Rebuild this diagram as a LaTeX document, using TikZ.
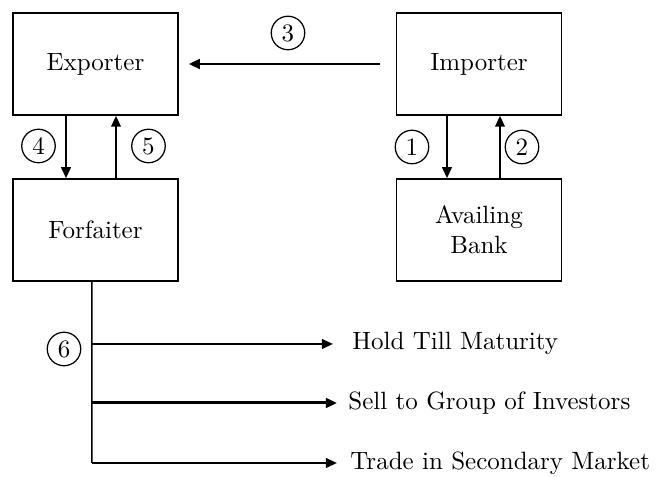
\documentclass[tikz,border=0pt]{standalone}
\usepackage{tikz}
\usetikzlibrary{arrows.meta,calc}

\begin{document}
\begin{tikzpicture}[x=0.4pt, y=-0.4pt,
    party/.style={draw, line width=0.6pt, minimum width=66pt, minimum height=40.8pt, align=center},
    num/.style={draw, circle, line width=0.5pt, minimum size=13.4pt, inner sep=0pt},
    flow/.style={line width=0.9pt, -{Triangle[length=4.4pt, width=3.8pt]}},
    outcome/.style={anchor=west, inner sep=0pt}]
    \useasboundingbox (0,0) rectangle (656,477);
    % parties
    \node[party] (exp) at (95.5, 64) {Exporter};
    \node[party] (imp) at (479, 64) {Importer};
    \node[party] (forf) at (95.5, 230) {Forfaiter};
    \node[party] (bank) at (479, 230) {Availing\\Bank};
    % importer pays exporter
    \draw[flow, line width=1.1pt, shorten <=6.4pt, shorten >=4pt] (imp.west) -- (exp.east);
    \node[num] (n3) at (288, 33) {3};
    % importer and bank
    \draw[flow] ([xshift=-12.8pt]imp.south) -- ([xshift=-12.8pt]bank.north);
    \draw[flow] ([xshift=8.4pt]bank.north) -- ([xshift=8.4pt]imp.south);
    \node[num] (n1) at (412, 147) {1};
    \node[num] (n2) at (522, 147) {2};
    % exporter and forfaiter
    \draw[flow] ([xshift=-11.8pt]exp.south) -- ([xshift=-11.8pt]forf.north);
    \draw[flow] ([xshift=8.2pt]forf.north) -- ([xshift=8.2pt]exp.south);
    \node[num] (n4) at (38.5, 146) {4};
    \node[num] (n5) at (148.5, 146) {5};
    % what the forfaiter does
    \coordinate (top) at ([xshift=-1.4pt]forf.south);
    \coordinate (b1) at (92, 344);
    \coordinate (b2) at (92, 403);
    \coordinate (b3) at (92, 463);
    \draw[line width=0.6pt] (top) -- (b3);
    \node[num] (n6) at (64, 349) {6};
    \node[outcome] (hold) at (352, 343) {Hold Till Maturity};
    \node[outcome] (sell) at (348, 403) {Sell to Group of Investors};
    \node[outcome] (trade) at (350, 463) {Trade in Secondary Market};
    \draw[flow, shorten >=7.6pt] (b1) -- (b1 -| hold.west);
    \draw[flow, line width=1.2pt, shorten >=4.4pt] (b2) -- (b2 -| sell.west);
    \draw[flow, shorten >=5.2pt] (b3) -- (b3 -| trade.west);
\end{tikzpicture}
\end{document}
